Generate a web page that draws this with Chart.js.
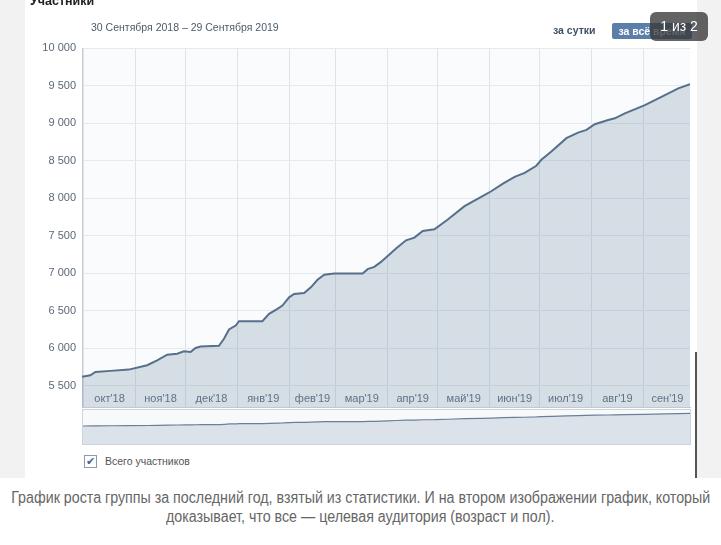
<!DOCTYPE html>
<html>
<head>
<meta charset="utf-8">
<script src="https://cdn.jsdelivr.net/npm/chart.js@4/dist/chart.umd.min.js"></script>
<style>
  body { margin: 0; width: 721px; height: 545px; background: #fff; position: relative; overflow: hidden; font-family: "Liberation Sans", Arial, sans-serif; }
  .strip { position: absolute; top: 0; height: 478px; background: #f2f2f2; }
  #wrapMain { position: absolute; left: 0; top: 0; width: 721px; height: 420px; }
  #wrapNav { position: absolute; left: 82px; top: 409px; width: 609px; height: 36px; border: 1px solid #cdd3db; box-sizing: border-box; background: #f8f9fb; }
  .txt { position: absolute; white-space: nowrap; }
  .legenda { position: absolute; left: 0; width: 721px; display: flex; justify-content: center; font-size: 16px; line-height: 19px; color: #666; white-space: nowrap; }
  .legenda span { display: inline-block; flex: none; transform-origin: center; }
</style>
</head>
<body>
<div class="strip" style="left:0;width:25px"></div>
<div class="strip" style="left:697px;width:24px"></div>
<div style="position:absolute;left:695px;top:352px;width:2px;height:126px;background:#555"></div>

<div id="wrapMain"><canvas id="cvs_membros" width="721" height="420"></canvas></div>
<div id="wrapNav"><canvas id="cvs_navegador" width="607" height="34"></canvas></div>

<div class="txt" style="left:30px;top:-6px;font-size:12.5px;font-weight:bold;color:#222">Участники</div>
<div class="txt" style="left:91px;top:21px;font-size:10.5px;color:#4d5b6b">30 Сентября 2018 – 29 Сентября 2019</div>
<div class="txt" style="left:553px;top:24px;font-size:10.5px;font-weight:bold;color:#3f5066">за сутки</div>
<div class="txt" style="left:612px;top:23px;width:80px;height:16px;background:#5b7fa8;color:#fff;font-size:10.5px;font-weight:bold;line-height:16px;text-align:center;border-radius:2px">за всё время</div>
<div class="txt" style="left:650px;top:12px;width:58px;height:29px;background:rgba(55,55,55,0.78);border-radius:6px;color:#fff;font-size:14px;line-height:29px;text-align:center">1 из 2</div>

<div class="txt" style="left:84px;top:455px;width:11px;height:11px;border:1px solid #8d9bab;background:#fff;color:#45688e;font-size:11px;line-height:11px;text-align:center">✔</div>
<div class="txt" style="left:105px;top:455px;font-size:10.5px;color:#555">Всего участников</div>

<div class="legenda" style="top:488px"><span id="leg1">График роста группы за последний год, взятый из статистики. И на втором изображении график, который</span></div>
<div class="legenda" style="top:507px"><span id="leg2">доказывает, что все — целевая аудитория (возраст и пол).</span></div>

<script>
// dias desde 30.09.2018 e numero de participantes
const dias = [0, 5, 8, 17, 28, 39, 45, 51, 57, 61, 65, 68, 71, 82, 85, 88, 92, 94, 108, 112,
  117, 120, 124, 127, 133, 137, 141, 145, 151, 159, 168, 171, 175, 179, 183, 188, 194, 199, 204, 211,
  219, 229, 239, 245, 252, 259, 265, 272, 275, 281, 290, 297, 302, 307, 315, 319, 325, 337, 349, 357, 364];
const participantes = [5615, 5637, 5681, 5695, 5712, 5770, 5836, 5911, 5924, 5955, 5947, 6000, 6021, 6030, 6123, 6247, 6300, 6358, 6358, 6455,
  6521, 6565, 6676, 6720, 6733, 6809, 6910, 6976, 6994, 6994, 6994, 7051, 7082, 7148, 7228, 7326, 7436, 7472, 7560, 7582,
  7714, 7891, 8015, 8090, 8192, 8281, 8334, 8430, 8510, 8620, 8798, 8872, 8908, 8983, 9040, 9063, 9129, 9239, 9372, 9461, 9518];

// inicio de cada mes (dia) e rotulos
const inicioMes = [1, 32, 62, 93, 124, 152, 183, 213, 244, 274, 305, 336];
const fimPeriodo = 365;
const rotulosMes = ["окт'18", "ноя'18", "дек'18", "янв'19", "фев'19", "мар'19", "апр'19", "май'19", "июн'19", "июл'19", "авг'19", "сен'19"];
const ticksY = [5500, 6000, 6500, 7000, 7500, 8000, 8500, 9000, 9500, 10000];

const pontos = dias.map((d, i) => ({ x: d, y: participantes[i] }));

// legenda estreita (fonte condensada nao existe aqui)
const larguraLinha1 = 699;
const leg1 = document.getElementById("leg1");
const escala = larguraLinha1 / leg1.getBoundingClientRect().width;
leg1.style.transform = "scaleX(" + escala + ")";
document.getElementById("leg2").style.transform = "scaleX(" + escala + ")";

Chart.defaults.font.family = "'Liberation Sans', Arial, sans-serif";
Chart.defaults.font.size = 11;

function formatar(v) {
  return v.toString().replace(/\B(?=(\d{3})+(?!\d))/g, " ");
}

// fundo da area do grafico
const fundoPlugin = {
  id: "fundo",
  beforeDraw(chart) {
    const a = chart.chartArea;
    const ctx = chart.ctx;
    ctx.save();
    ctx.fillStyle = "#fafbfc";
    ctx.fillRect(a.left, a.top, a.right - a.left, a.bottom - a.top);
    ctx.restore();
  },
};

new Chart(document.getElementById("cvs_membros"), {
  type: "line",
  data: {
    datasets: [
      {
        data: pontos,
        borderColor: "#566f8b",
        borderWidth: 2,
        backgroundColor: "rgba(95,125,160,0.24)",
        fill: "start",
        pointRadius: 0,
        tension: 0,
      },
    ],
  },
  options: {
    responsive: false,
    devicePixelRatio: 1,
    animation: false,
    layout: { padding: { left: 0, top: 48, right: 31, bottom: 11 } },
    plugins: { legend: { display: false }, tooltip: { enabled: false } },
    scales: {
      x: {
        type: "linear",
        min: 0,
        max: 364,
        afterFit: (s) => { s.height = 0; },
        afterBuildTicks: (s) => {
          const t = [];
          for (let i = 0; i < inicioMes.length; i++) {
            const fim = i + 1 < inicioMes.length ? inicioMes[i + 1] : fimPeriodo;
            t.push({ value: inicioMes[i] });
            t.push({ value: (inicioMes[i] + fim) / 2 });
          }
          s.ticks = t;
        },
        grid: {
          drawTicks: false,
          color: (c) => (c.index % 2 === 0 ? "#dfe3ea" : "rgba(0,0,0,0)"),
        },
        border: { display: true, color: "#c6ccd4" },
        ticks: {
          autoSkip: false,
          maxRotation: 0,
          mirror: true,
          padding: 2,
          z: 1,
          color: "#5f7186",
          callback: (v, i) => (i % 2 === 1 ? rotulosMes[(i - 1) / 2] : ""),
        },
      },
      y: {
        min: 5208,
        max: 10000,
        afterFit: (s) => { s.width = 82; },
        afterBuildTicks: (s) => {
          s.ticks = ticksY.map((v) => ({ value: v }));
        },
        grid: { drawTicks: false, color: "#e6e9ee" },
        border: { display: true, color: "#c6ccd4" },
        ticks: {
          padding: 6,
          color: "#5c6876",
          callback: (v) => formatar(v),
        },
      },
    },
  },
  plugins: [fundoPlugin],
});

// navegador (mini grafico)
new Chart(document.getElementById("cvs_navegador"), {
  type: "line",
  data: {
    datasets: [
      {
        data: pontos,
        borderColor: "#6b8098",
        borderWidth: 1.2,
        backgroundColor: "rgba(110,135,165,0.2)",
        fill: "start",
        pointRadius: 0,
        tension: 0,
      },
    ],
  },
  options: {
    responsive: false,
    devicePixelRatio: 1,
    animation: false,
    layout: { padding: 0 },
    plugins: { legend: { display: false }, tooltip: { enabled: false } },
    scales: {
      x: { type: "linear", min: 0, max: 364, display: false },
      y: { min: 0, max: 10600, display: false },
    },
  },
});
</script>
</body>
</html>
